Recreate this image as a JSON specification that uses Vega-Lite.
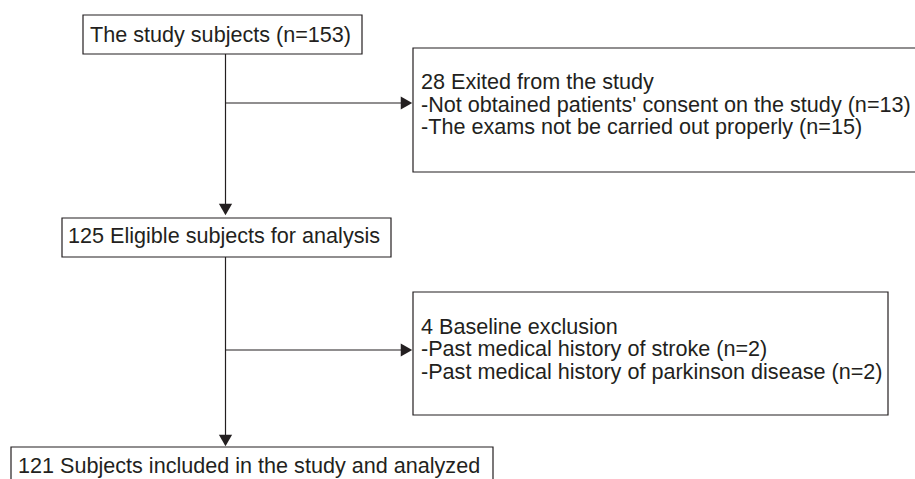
{
  "$schema": "https://vega.github.io/schema/vega-lite/v6.json",
  "autosize": {"type": "none"},
  "padding": 0,
  "width": 915,
  "height": 479,
  "background": "white",
  "config": {"view": {"stroke": null}},
  "datasets": {
    "boxes": [
      {"name": "start", "x1": 83, "x2": 362, "y1": 15, "y2": 54},
      {"name": "excl1", "x1": 413, "x2": 940, "y1": 48, "y2": 172},
      {"name": "eligible", "x1": 62, "x2": 391, "y1": 218, "y2": 257},
      {"name": "excl2", "x1": 413, "x2": 888, "y1": 292, "y2": 415},
      {"name": "final", "x1": 11, "x2": 493, "y1": 447, "y2": 490}
    ],
    "lines": [
      {"x1": 225.5, "y1": 54, "x2": 225.5, "y2": 210},
      {"x1": 225.5, "y1": 257, "x2": 225.5, "y2": 441},
      {"x1": 225.5, "y1": 103, "x2": 406, "y2": 103},
      {"x1": 225.5, "y1": 350, "x2": 406, "y2": 350}
    ],
    "arrows": [
      {"x": 225.5, "y": 209.5, "dir": "down"},
      {"x": 225.5, "y": 440.5, "dir": "down"},
      {"x": 406.5, "y": 103, "dir": "right"},
      {"x": 406.5, "y": 350, "dir": "right"}
    ],
    "labels": [
      {"x": 90, "y": 42, "text": "The study subjects (n=153)"},
      {"x": 421, "y": 89, "text": "28 Exited from the study"},
      {"x": 421, "y": 111.5, "text": "-Not obtained patients' consent on the study (n=13)"},
      {"x": 421, "y": 134, "text": "-The exams not be carried out properly (n=15)"},
      {"x": 68, "y": 243, "text": "125 Eligible subjects for analysis"},
      {"x": 421, "y": 333.5, "text": "4 Baseline exclusion"},
      {"x": 421, "y": 356, "text": "-Past medical history of stroke (n=2)"},
      {"x": 421, "y": 378.5, "text": "-Past medical history of parkinson disease (n=2)"},
      {"x": 18, "y": 472.5, "text": "121 Subjects included in the study and analyzed"}
    ]
  },
  "layer": [
    {
      "data": {"name": "boxes"},
      "mark": {"type": "rect", "fill": "white", "stroke": "#231f20", "strokeWidth": 1.2, "clip": true},
      "encoding": {
        "x": {"field": "x1", "type": "quantitative", "scale": {"domain": [0, 915], "nice": false, "zero": false}, "axis": null},
        "x2": {"field": "x2"},
        "y": {"field": "y1", "type": "quantitative", "scale": {"domain": [0, 479], "nice": false, "zero": false, "reverse": true}, "axis": null},
        "y2": {"field": "y2"}
      }
    },
    {
      "data": {"name": "lines"},
      "mark": {"type": "rule", "stroke": "#231f20", "strokeWidth": 1.2},
      "encoding": {
        "x": {"field": "x1", "type": "quantitative"},
        "x2": {"field": "x2"},
        "y": {"field": "y1", "type": "quantitative"},
        "y2": {"field": "y2"}
      }
    },
    {
      "data": {"name": "arrows"},
      "mark": {"type": "point", "filled": true, "fill": "#231f20", "opacity": 1, "size": 175, "strokeWidth": 0},
      "encoding": {
        "x": {"field": "x", "type": "quantitative"},
        "y": {"field": "y", "type": "quantitative"},
        "shape": {"field": "dir", "type": "nominal", "scale": {"domain": ["down", "right"], "range": ["triangle-down", "triangle-right"]}, "legend": null}
      }
    },
    {
      "data": {"name": "labels"},
      "mark": {"type": "text", "align": "left", "baseline": "alphabetic", "font": "Liberation Sans", "fontSize": 21.6, "fill": "#231f20", "clip": true},
      "encoding": {
        "x": {"field": "x", "type": "quantitative"},
        "y": {"field": "y", "type": "quantitative"},
        "text": {"field": "text", "type": "nominal"}
      }
    }
  ],
  "resolve": {"scale": {"x": "shared", "y": "shared"}}
}
